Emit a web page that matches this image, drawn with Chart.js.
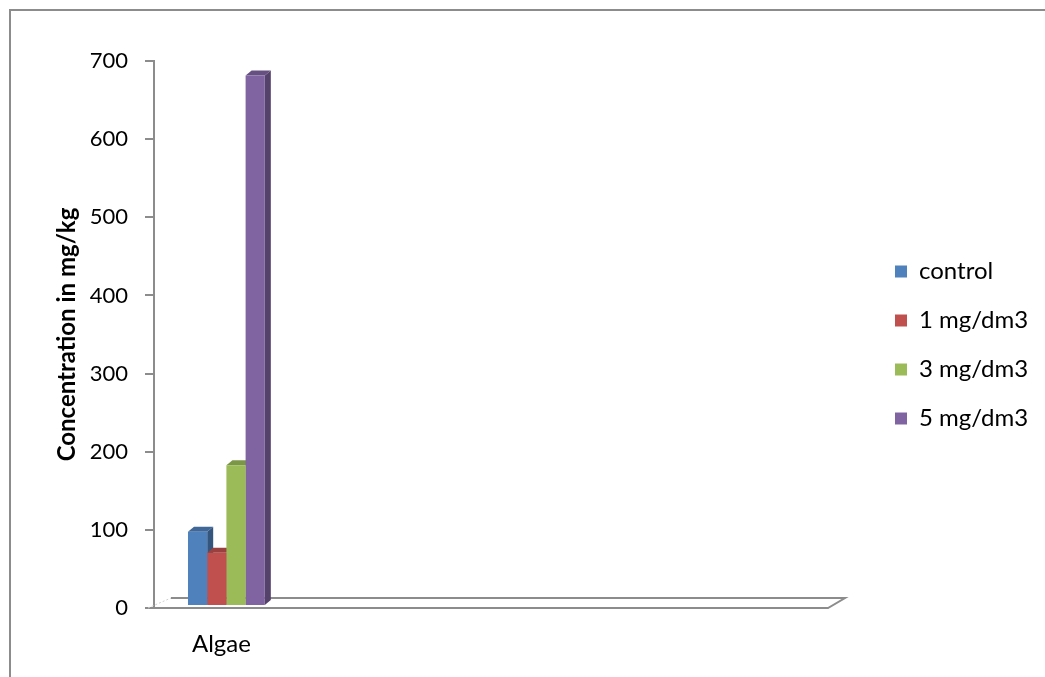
<!DOCTYPE html>
<html>
<head>
<meta charset="utf-8">
<script src="https://cdn.jsdelivr.net/npm/chart.js@4.4.1/dist/chart.umd.min.js"></script>
<style>
  html, body { margin: 0; padding: 0; background: #ffffff; overflow: hidden; }
  #wrap { position: relative; width: 1045px; height: 677px; }
  #wrap canvas { position: absolute; left: 0; top: 0; }
  #frame {
    position: absolute; left: 9px; top: 9px; width: 1100px; height: 720px;
    border-left: 2px solid #8c8c8c; border-top: 2px solid #8c8c8c;
    pointer-events: none;
  }
</style>
</head>
<body>
<div id="wrap">
  <canvas id="chart" width="1045" height="677"></canvas>
  <div id="frame"></div>
</div>
<script>
// Categories along the floor (only the first one carries measurements)
const categories = ['Algae', '', '', '', ''];

// Series names and their values (mg/kg)
const seriesNames = ['control', '1 mg/dm3', '3 mg/dm3', '5 mg/dm3'];
const controlValues = [95, null, null, null, null];
const dose1Values   = [68, null, null, null, null];
const dose3Values   = [180, null, null, null, null];
const dose5Values   = [679, null, null, null, null];

// Value axis
const yMin = 0;
const yMax = 700;
const yStep = 100;

const seriesColors = ['#4F81BD', '#C0504D', '#9BBB59', '#8064A2'];

// Oblique projection used for the 3-D look
const BAR_DEPTH = { dx: 6, dy: 5 };      // depth of each column
const BAR_PLANE = { dx: 5, dy: 2 };      // columns stand in the middle of the floor
const FLOOR_DEPTH = { dx: 17, dy: 10 };  // depth of the floor
const AXIS_GREY = '#8c8c8c';

function shade(hex, f) {
  const n = parseInt(hex.slice(1), 16);
  const r = Math.round(((n >> 16) & 255) * f);
  const g = Math.round(((n >> 8) & 255) * f);
  const b = Math.round((n & 255) * f);
  return `rgb(${r},${g},${b})`;
}

const depthPlugin = {
  id: 'depth3d',
  afterLayout(chart) {
    // place the legend a little to the right of the floor
    const lg = chart.legend;
    if (!lg) return;
    lg.left = chart.chartArea.right + 42;
    lg.right = chart.width;
    lg.width = lg.right - lg.left;
    lg.top -= 24;
    lg.bottom -= 24;
  },
  beforeDatasetsDraw(chart) {
    const { ctx, chartArea: a } = chart;
    const L = a.left, R = a.right, B = a.bottom;
    ctx.save();
    // floor outline
    ctx.strokeStyle = AXIS_GREY;
    ctx.lineWidth = 2;
    ctx.beginPath();
    ctx.moveTo(L, B);
    ctx.lineTo(R, B);
    ctx.lineTo(R + FLOOR_DEPTH.dx, B - FLOOR_DEPTH.dy);
    ctx.lineTo(L + FLOOR_DEPTH.dx, B - FLOOR_DEPTH.dy);
    ctx.stroke();
    // hidden left edge of the floor
    ctx.strokeStyle = '#cfcfcf';
    ctx.lineWidth = 1;
    ctx.setLineDash([2, 2]);
    ctx.beginPath();
    ctx.moveTo(L - 6, B);
    ctx.lineTo(L + FLOOR_DEPTH.dx, B - FLOOR_DEPTH.dy);
    ctx.stroke();
    ctx.setLineDash([]);

    // side and top faces of the columns, drawn before the fronts
    ctx.translate(BAR_PLANE.dx, -BAR_PLANE.dy);
    chart.data.datasets.forEach((ds, di) => {
      const meta = chart.getDatasetMeta(di);
      if (meta.hidden) return;
      const base = ds.backgroundColor;
      meta.data.forEach((bar, idx) => {
        if (ds.data[idx] == null) return;
        const p = bar.getProps(['x', 'y', 'base', 'width'], true);
        if (!Number.isFinite(p.y)) return;
        const l = p.x - p.width / 2, r = p.x + p.width / 2;
        const t = Math.min(p.y, p.base), b = Math.max(p.y, p.base);
        // side face
        ctx.fillStyle = shade(base, 0.66);
        ctx.beginPath();
        ctx.moveTo(r, t);
        ctx.lineTo(r + BAR_DEPTH.dx, t - BAR_DEPTH.dy);
        ctx.lineTo(r + BAR_DEPTH.dx, b - BAR_DEPTH.dy);
        ctx.lineTo(r, b);
        ctx.closePath();
        ctx.fill();
        // top face
        ctx.fillStyle = shade(base, 0.8);
        ctx.beginPath();
        ctx.moveTo(l, t);
        ctx.lineTo(r, t);
        ctx.lineTo(r + BAR_DEPTH.dx, t - BAR_DEPTH.dy);
        ctx.lineTo(l + BAR_DEPTH.dx, t - BAR_DEPTH.dy);
        ctx.closePath();
        ctx.fill();
      });
    });
    ctx.restore();
  },
  beforeDatasetDraw(chart) {
    chart.ctx.save();
    chart.ctx.translate(BAR_PLANE.dx, -BAR_PLANE.dy);
  },
  afterDatasetDraw(chart) {
    chart.ctx.restore();
  }
};

Chart.defaults.font.family = 'Lato';
Chart.defaults.color = '#000000';

const seriesValues = [controlValues, dose1Values, dose3Values, dose5Values];

new Chart(document.getElementById('chart'), {
  type: 'bar',
  data: {
    labels: categories,
    datasets: seriesNames.map((name, i) => ({
      label: name,
      data: seriesValues[i],
      backgroundColor: seriesColors[i],
      borderWidth: 0,
      categoryPercentage: 0.57,
      barPercentage: 1.0
    }))
  },
  options: {
    responsive: false,
    animation: false,
    devicePixelRatio: 1,
    layout: { padding: { top: 61, right: 97, bottom: 0, left: 0 } },
    plugins: {
      legend: {
        position: 'right',
        maxWidth: 120,
        labels: {
          boxWidth: 12,
          boxHeight: 12,
          padding: 25,
          font: { family: 'Lato', size: 24 },
          color: '#000000'
        }
      },
      tooltip: { enabled: false }
    },
    scales: {
      x: {
        afterFit(scale) { scale.height = 69; },
        grid: { display: false },
        border: { display: false },
        ticks: { font: { family: 'Lato', size: 24 }, color: '#000000', padding: 14, autoSkip: false, maxRotation: 0 }
      },
      y: {
        min: yMin,
        max: yMax,
        afterFit(scale) { scale.width = 154; },
        ticks: { stepSize: yStep, font: { family: 'Lato', size: 22 }, color: '#000000', padding: 17 },
        grid: { drawOnChartArea: false, drawTicks: true, tickLength: 9, color: AXIS_GREY, lineWidth: 2 },
        border: { display: true, color: AXIS_GREY, width: 2 },
        title: {
          display: true,
          text: 'Concentration in mg/kg',
          font: { family: 'Lato', size: 24, weight: 'bold' },
          color: '#000000',
          padding: { top: 53, bottom: 0 }
        }
      }
    }
  },
  plugins: [depthPlugin]
});
</script>
</body>
</html>
